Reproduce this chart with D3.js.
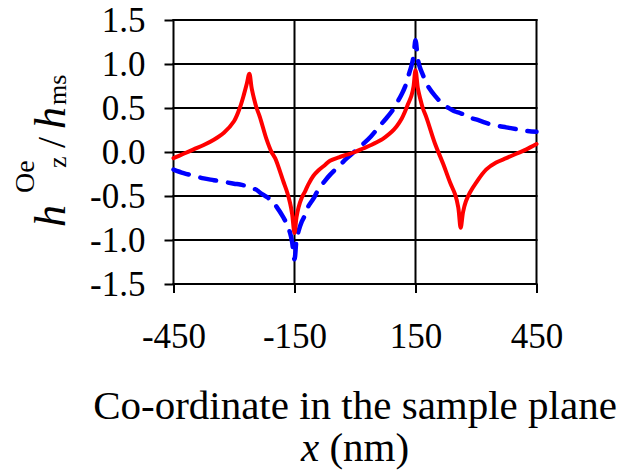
<!DOCTYPE html>
<html>
<head>
<meta charset="utf-8">
<script src="https://cdn.jsdelivr.net/npm/d3@7"></script>
<style>
  html, body { margin: 0; padding: 0; background: #fff; }
  svg { display: block; }
  text { font-family: "Liberation Serif", "Times New Roman", serif; fill: #000; }
</style>
</head>
<body>
<svg id="chart" width="623" height="470"></svg>
<script>
// Sample-plane coordinate (nm)
const xs = [-450, -425, -400, -375, -350, -325, -300, -285, -275, -268, -262, -256, -250, -244, -236, -219, -207, -198, -178, -168, -161, -156, -150,
            -145, -140, -132, -124, -116, -103, -91, -75, -62, -40, -20, 0,
            20, 40, 62, 75, 91, 103, 116, 124, 132, 140, 145, 150,
            156, 161, 168, 178, 198, 219, 236, 248, 256, 262, 268, 275, 285, 300, 325, 350, 375, 400, 425, 450];

// Normalised Oersted field, solid red series
const redField = [-0.07, -0.02, 0.03, 0.08, 0.14, 0.22, 0.35, 0.51, 0.66, 0.78, 0.89, 0.72, 0.60, 0.50, 0.40, 0.14, 0.00, -0.07, -0.33, -0.46, -0.58, -0.70, -0.92,
                  -0.74, -0.63, -0.52, -0.45, -0.37, -0.27, -0.21, -0.15, -0.10, -0.06, -0.03, 0.00,
                  0.04, 0.08, 0.13, 0.17, 0.23, 0.29, 0.38, 0.46, 0.55, 0.64, 0.74, 0.93,
                  0.72, 0.62, 0.50, 0.38, 0.10, -0.14, -0.35, -0.48, -0.63, -0.86, -0.68, -0.56, -0.46, -0.35, -0.20, -0.12, -0.07, -0.02, 0.03, 0.09];

// Normalised Oersted field, dashed blue series
const blueField = [-0.20, -0.24, -0.27, -0.30, -0.32, -0.34, -0.36, -0.37, -0.38, -0.39, -0.40, -0.41, -0.42, -0.43, -0.46, -0.51, -0.55, -0.60, -0.74, -0.83, -0.92, -1.02, -1.22,
                   -1.00, -0.90, -0.79, -0.72, -0.62, -0.53, -0.43, -0.33, -0.26, -0.16, -0.07, 0.01,
                   0.09, 0.18, 0.30, 0.37, 0.46, 0.55, 0.66, 0.74, 0.86, 0.98, 1.08, 1.27,
                   1.05, 0.96, 0.88, 0.77, 0.64, 0.54, 0.49, 0.46, 0.45, 0.44, 0.43, 0.41, 0.39, 0.37, 0.33, 0.30, 0.28, 0.26, 0.24, 0.23];

const xTicks = [-450, -150, 150, 450];
const xTickLabels = ["-450", "-150", "150", "450"];
const yTicks = [-1.5, -1.0, -0.5, 0.0, 0.5, 1.0, 1.5];
const yTickLabels = ["-1.5", "-1.0", "-0.5", "0.0", "0.5", "1.0", "1.5"];

const svg = d3.select("#chart");
const x = d3.scaleLinear().domain([-450, 450]).range([173.5, 536.5]);
const y = d3.scaleLinear().domain([-1.5, 1.5]).range([284, 20]);

// Grid
const grid = svg.append("g").attr("stroke", "#000").attr("stroke-width", 2);
grid.selectAll("line.h").data(yTicks).join("line").attr("class", "h")
  .attr("x1", x(-450) - 1).attr("x2", x(450) + 1)
  .attr("y1", d => y(d)).attr("y2", d => y(d));
grid.selectAll("line.v").data(xTicks).join("line").attr("class", "v")
  .attr("x1", d => x(d)).attr("x2", d => x(d))
  .attr("y1", y(1.5) - 1).attr("y2", y(-1.5) + 1);

// Axes
const yAxis = d3.axisLeft(y).tickValues(yTicks).tickSize(9).tickPadding(19)
  .tickFormat((d, i) => yTickLabels[i]);
const gy = svg.append("g").attr("transform", `translate(${x(-450)},0)`).call(yAxis);
const xAxis = d3.axisBottom(x).tickValues(xTicks).tickSize(9).tickPadding(30)
  .tickFormat((d, i) => xTickLabels[i]);
const gx = svg.append("g").attr("transform", `translate(0,${y(-1.5)})`).call(xAxis);
[gx, gy].forEach(g => {
  g.select(".domain").remove();
  g.selectAll(".tick line").attr("stroke", "#000").attr("stroke-width", 2);
  g.selectAll(".tick text").attr("font-size", 35).attr("fill", "#000");
});
gy.selectAll(".tick text").attr("dy", "0.34em");

// Series
const line = d3.line().x(d => x(d[0])).y(d => y(d[1])).curve(d3.curveCatmullRom.alpha(0.5));
svg.append("path")
  .datum(xs.map((v, i) => [v, blueField[i]]))
  .attr("d", line).attr("fill", "none").attr("stroke", "#0000FF")
  .attr("stroke-width", 4.5).attr("stroke-dasharray", "16,12").attr("stroke-linecap", "round")
  .attr("stroke-linejoin", "round");
svg.append("path")
  .datum(xs.map((v, i) => [v, redField[i]]))
  .attr("d", line).attr("fill", "none").attr("stroke", "#FF0000")
  .attr("stroke-width", 4).attr("stroke-linejoin", "round").attr("stroke-linecap", "round");

// X axis title
const cx = (x(-450) + x(450)) / 2;
svg.append("text").attr("x", cx).attr("y", 419).attr("text-anchor", "middle")
  .attr("font-size", 41).text("Co-ordinate in the sample plane");
const t2 = svg.append("text").attr("x", cx).attr("y", 461).attr("text-anchor", "middle").attr("font-size", 41);
t2.append("tspan").attr("font-style", "italic").text("x");
t2.append("tspan").text(" (nm)");

// Y axis title: h^Oe_z / h_ms, reading upwards along the left edge
const yt = svg.append("g").attr("transform", "translate(65,227) rotate(-90)");
yt.append("text").attr("x", 0).attr("y", 0).attr("font-size", 44).attr("font-style", "italic").text("h");
yt.append("text").attr("x", 34).attr("y", -31).attr("font-size", 28).text("Oe");
yt.append("text").attr("x", 59).attr("y", 1).attr("font-size", 26).text("z");
yt.append("text").attr("x", 79).attr("y", 0).attr("font-size", 40).text("/");
yt.append("text").attr("x", 98).attr("y", 0).attr("font-size", 44).attr("font-style", "italic").text("h");
yt.append("text").attr("x", 122).attr("y", 1).attr("font-size", 26).text("ms");
</script>
</body>
</html>
